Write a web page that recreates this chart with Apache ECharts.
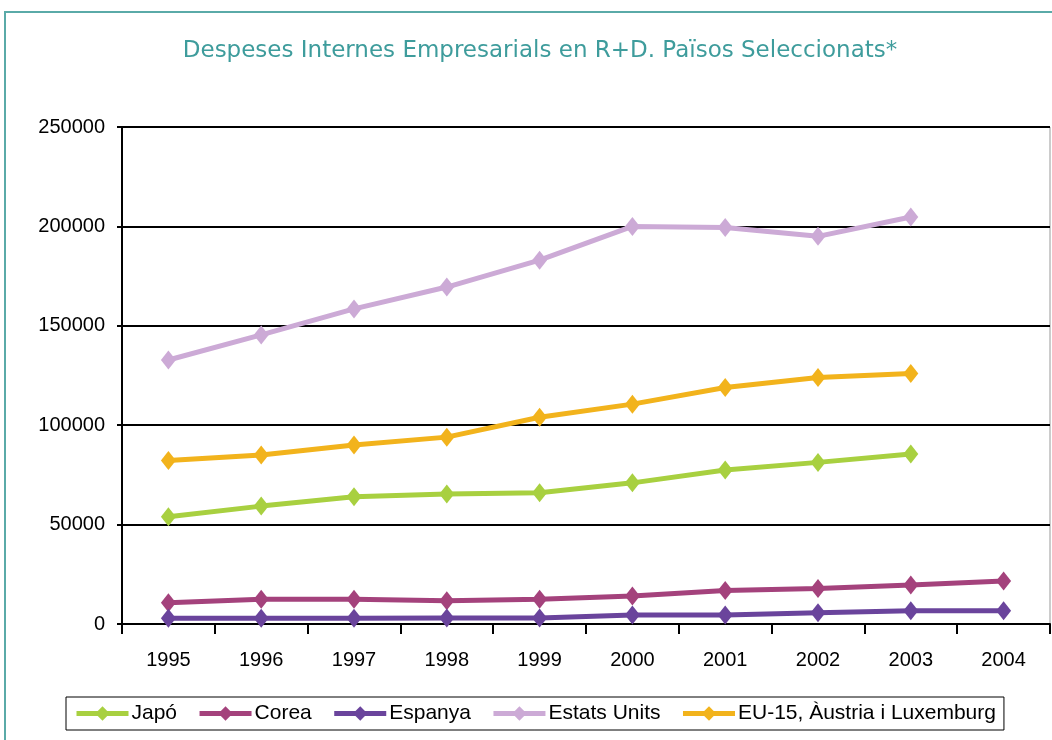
<!DOCTYPE html>
<html>
<head>
<meta charset="utf-8">
<script src="https://cdn.jsdelivr.net/npm/echarts@6/dist/echarts.min.js"></script>
<style>
  html, body { margin: 0; padding: 0; background: #fff; }
  #chart { width: 1052px; height: 740px; }
</style>
</head>
<body>
<div id="chart"></div>
<script>
// dades llegides del gràfic
var years = ['1995', '1996', '1997', '1998', '1999', '2000', '2001', '2002', '2003', '2004'];
var japo = [54000, 59300, 64000, 65400, 66000, 71000, 77500, 81300, 85500, null];
var corea = [10700, 12400, 12400, 11700, 12400, 14100, 16800, 17900, 19600, 21600];
var espanya = [2900, 2900, 2900, 3000, 3000, 4500, 4500, 5700, 6700, 6700];
var estatsUnits = [132800, 145400, 158500, 169500, 183000, 200000, 199500, 195000, 204700, null];
var eu15 = [82200, 85000, 90000, 94000, 104000, 110600, 119000, 124000, 126000, null];

var names = ['Japó', 'Corea', 'Espanya', 'Estats Units', 'EU-15, Àustria i Luxemburg'];
var colors = ['#a8d040', '#a4427c', '#6a449c', '#ccaad6', '#f2b31c'];

var myChart = echarts.init(document.getElementById('chart'));

function makeSeries(name, data, color) {
    return {
        name: name,
        type: 'line',
        data: data,
        color: color,
        symbol: 'diamond',
        symbolSize: [15, 19],
        lineStyle: { width: 5, color: color },
        itemStyle: { color: color },
        connectNulls: false
    };
}

var option = {
    backgroundColor: '#fff',
    animation: false,
    color: colors,
    title: {
        text: 'Despeses Internes Empresarials en R+D. Països Seleccionats*',
        left: 535,
        textAlign: 'center',
        top: 35,
        textStyle: {
            color: '#3e9c9c',
            fontFamily: 'DejaVu Sans',
            fontWeight: 'normal',
            fontSize: 23
        }
    },
    graphic: [{
        type: 'rect',
        shape: { x: 5, y: 12, width: 1200, height: 900 },
        style: { fill: null, stroke: '#5aaaa8', lineWidth: 2 },
        silent: true
    }],
    legend: {
        data: names,
        left: 66,
        top: 697,
        padding: [6, 8, 6, 8],
        borderColor: '#000',
        borderWidth: 1,
        backgroundColor: '#fff',
        itemWidth: 52,
        itemHeight: 18,
        itemGap: 20,
        lineStyle: { width: 5 },
        textStyle: {
            fontFamily: 'Liberation Sans',
            fontSize: 21,
            color: '#000',
            padding: [0, 0, 0, -2]
        }
    },
    grid: {
        left: 122,
        right: 2,
        top: 127,
        bottom: 116,
        show: true,
        borderColor: '#999',
        borderWidth: 1
    },
    xAxis: {
        type: 'category',
        data: years,
        boundaryGap: true,
        axisLine: { lineStyle: { color: '#000', width: 2 } },
        axisTick: { show: true, length: 10, lineStyle: { color: '#000', width: 2 } },
        axisLabel: {
            margin: 26,
            color: '#000',
            fontFamily: 'Liberation Sans',
            fontSize: 20
        }
    },
    yAxis: {
        type: 'value',
        min: 0,
        max: 250000,
        interval: 50000,
        axisLine: { show: true, lineStyle: { color: '#000', width: 2 } },
        axisTick: { show: true, length: 5, lineStyle: { color: '#000', width: 2 } },
        splitLine: { lineStyle: { color: '#000', width: 2 } },
        axisLabel: {
            margin: 17,
            color: '#000',
            fontFamily: 'Liberation Sans',
            fontSize: 20,
            formatter: function (v) { return String(v); }
        }
    },
    series: [
        makeSeries(names[0], japo, colors[0]),
        makeSeries(names[1], corea, colors[1]),
        makeSeries(names[2], espanya, colors[2]),
        makeSeries(names[3], estatsUnits, colors[3]),
        makeSeries(names[4], eu15, colors[4])
    ]
};

myChart.setOption(option);
</script>
</body>
</html>
